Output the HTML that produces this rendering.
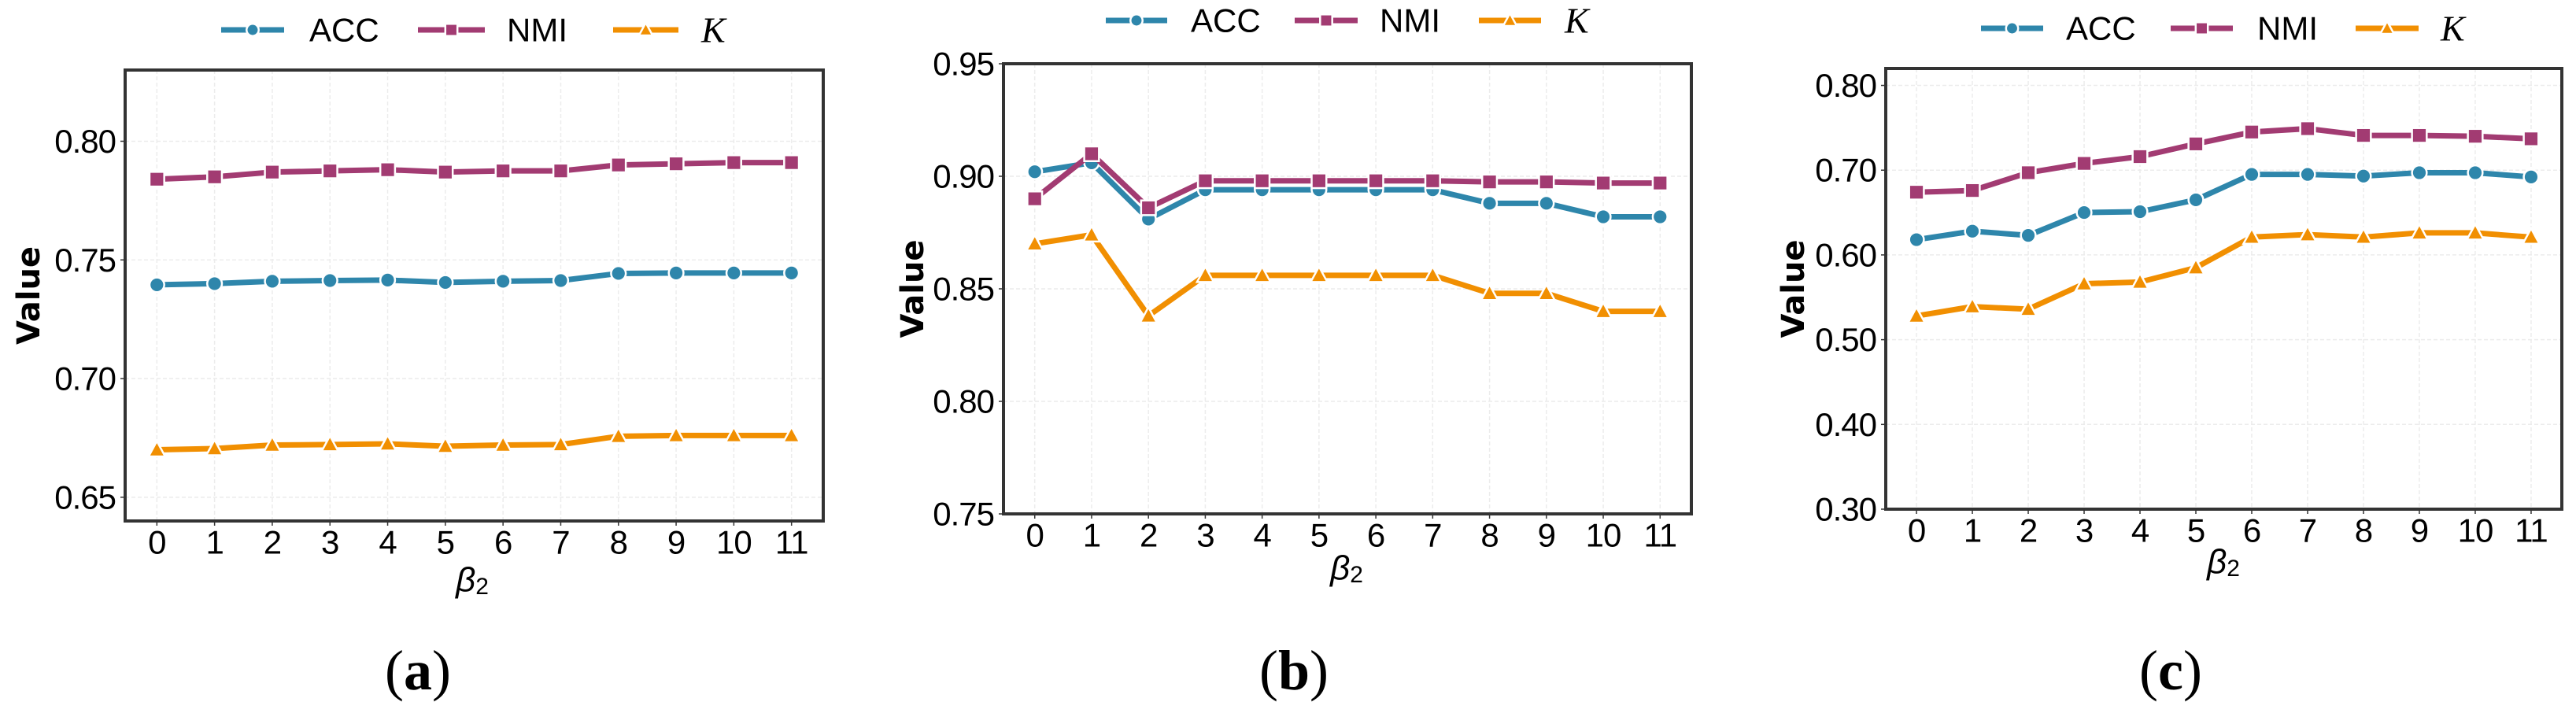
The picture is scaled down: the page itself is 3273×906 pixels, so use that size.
<!DOCTYPE html>
<html><head><meta charset="utf-8"><style>
html,body{margin:0;padding:0;background:#fff;}
svg{display:block;font-family:"Liberation Sans","DejaVu Sans",sans-serif;}
</style></head><body>
<svg id="fig" width="3273" height="906" viewBox="0 0 3273 906" xmlns="http://www.w3.org/2000/svg"></svg>
<script>
const xCats=[0,1,2,3,4,5,6,7,8,9,10,11];
const seriesNames=["ACC","NMI","K"];
const accA=[0.7395,0.740,0.741,0.7413,0.7415,0.7405,0.741,0.7413,0.7443,0.7445,0.7445,0.7445];
const nmiA=[0.784,0.785,0.787,0.7875,0.788,0.787,0.7875,0.7875,0.790,0.7905,0.791,0.791];
const kA=[0.670,0.6705,0.672,0.6722,0.6725,0.6715,0.672,0.6722,0.6757,0.676,0.676,0.676];
const accB=[0.902,0.906,0.881,0.894,0.894,0.894,0.894,0.894,0.888,0.888,0.882,0.882];
const nmiB=[0.890,0.910,0.886,0.898,0.898,0.898,0.898,0.898,0.8975,0.8975,0.897,0.897];
const kB=[0.870,0.874,0.838,0.856,0.856,0.856,0.856,0.856,0.848,0.848,0.840,0.840];
const accC=[0.618,0.628,0.623,0.650,0.651,0.665,0.695,0.695,0.693,0.697,0.697,0.692];
const nmiC=[0.674,0.676,0.697,0.708,0.716,0.731,0.745,0.749,0.741,0.741,0.740,0.737];
const kC=[0.528,0.539,0.536,0.566,0.568,0.585,0.621,0.624,0.621,0.626,0.626,0.621];
const yTicksA=[0.65,0.70,0.75,0.80];
const yTicksB=[0.75,0.80,0.85,0.90,0.95];
const yTicksC=[0.30,0.40,0.50,0.60,0.70,0.80];

const NS="http://www.w3.org/2000/svg";
const svg=document.getElementById('fig');
const colors={ACC:"#2e86ab",NMI:"#a23b72",K:"#f18f01"};
function mk(tag,attrs,parent){const e=document.createElementNS(NS,tag);for(const k in attrs)e.setAttribute(k,attrs[k]);(parent||svg).appendChild(e);return e;}
function marker(g,kind,x,y,s){
  let m;
  if(kind==="ACC"){m=mk('circle',{cx:x,cy:y,r:s*0.55,fill:colors.ACC,stroke:'#fff','stroke-width':2.5},g);}
  else if(kind==="NMI"){m=mk('rect',{x:x-s*0.55,y:y-s*0.55,width:s*1.1,height:s*1.1,fill:colors.NMI,stroke:'#fff','stroke-width':2.5},g);}
  else {m=mk('polygon',{points:`${x},${y-s*0.65} ${x+s*0.62},${y+s*0.5} ${x-s*0.62},${y+s*0.5}`,fill:colors.K,stroke:'#fff','stroke-width':2.5},g);}
  return m;
}
function panel(cfg){
  const g=mk('g',{});
  
  
  const {L,R,T,B,ymin,ymax}=cfg;
  const xmin=-0.55,xmax=11.55;
  const X=v=>L+(v-xmin)/(xmax-xmin)*(R-L);
  const Y=v=>B-(v-ymin)/(ymax-ymin)*(B-T);
  xCats.forEach(c=>{const l=mk('line',{x1:X(c),x2:X(c),y1:T,y2:B,stroke:'#ececec','stroke-width':1.5,'stroke-dasharray':'5,3'},g);
    });
  cfg.yticks.forEach(t=>{const l=mk('line',{x1:L,x2:R,y1:Y(t),y2:Y(t),stroke:'#ececec','stroke-width':1.5,'stroke-dasharray':'5,3'},g);
    });
  const data={ACC:cfg.acc,NMI:cfg.nmi,K:cfg.k};
  ["ACC","NMI","K"].forEach(s=>{
    const sg=mk('g',{},g);
    
    
    const pts=data[s].map((v,i)=>X(xCats[i])+','+Y(v)).join(' ');
    const pl=mk('polyline',{points:pts,fill:'none',stroke:colors[s],'stroke-width':7,'stroke-linejoin':'round'},sg);
    
    
    data[s].forEach((v,i)=>{const m=marker(sg,s,X(xCats[i]),Y(v),17);
      
      });
  });
  const fr=mk('rect',{x:L,y:T,width:R-L,height:B-T,fill:'none',stroke:'#333','stroke-width':4},g);
  
  xCats.forEach(c=>{
    mk('line',{x1:X(c),x2:X(c),y1:B,y2:B+6,stroke:'#333','stroke-width':1.5},g);
    const t=mk('text',{x:X(c),y:B+27,'text-anchor':'middle','dominant-baseline':'central','font-size':42,fill:'#000','letter-spacing':'-1'},g);
    t.textContent=c;
    
  });
  cfg.yticks.forEach(v=>{
    mk('line',{x1:L-6,x2:L,y1:Y(v),y2:Y(v),stroke:'#333','stroke-width':1.5},g);
    const t=mk('text',{x:L-12,y:Y(v),'text-anchor':'end','dominant-baseline':'central','font-size':42,fill:'#000','letter-spacing':'-1'},g);
    t.textContent=v.toFixed(2);
    
  });
  const yl=mk('text',{x:0,y:0,transform:`translate(${cfg.ylx},${(T+B)/2}) rotate(-90)`,'text-anchor':'middle','dominant-baseline':'central','font-size':40,'font-weight':'bold','font-family':'"DejaVu Sans",sans-serif'},g);
  yl.textContent='Value';
  const xl=mk('text',{x:cfg.xlx,y:cfg.xly,'text-anchor':'middle','dominant-baseline':'central','font-size':44,'font-style':'italic'},g);
  xl.textContent='β';
  const sub=mk('tspan',{'font-size':30,'font-style':'normal',dy:8},xl);sub.textContent='2';
  
  const cap=mk('text',{x:cfg.capx,y:852,'text-anchor':'middle','dominant-baseline':'central','font-size':72,'font-family':'"Liberation Serif",serif'},g);
  mk('tspan',{},cap).textContent='(';
  mk('tspan',{'font-weight':'bold'},cap).textContent=cfg.id;
  mk('tspan',{},cap).textContent=')';
  
  const lg=mk('g',{},g);
  
  cfg.leg.forEach((p,i)=>{
    const s=seriesNames[i];
    const eg=mk('g',{},lg);
    
    
    mk('line',{x1:p[0],x2:p[1],y1:cfg.legy,y2:cfg.legy,stroke:colors[s],'stroke-width':7},eg);
    marker(eg,s,(p[0]+p[1])/2,cfg.legy,14);
    const t=mk('text',{x:p[2],y:cfg.legy,'dominant-baseline':'central','font-size':42},eg);
    if(s==="K"){t.setAttribute('font-family','"Liberation Serif",serif');t.setAttribute('font-style','italic');t.setAttribute('font-size',46);t.textContent='K';}
    else t.textContent=s;
  });
}
panel({id:'a',L:159,R:1046,T:89,B:662,ymin:0.64,ymax:0.83,yticks:yTicksA,acc:accA,nmi:nmiA,k:kA,
  ylx:37,xlx:600,xly:737,capx:531,legy:38,leg:[[281,361,393],[531,616,644],[779,862,891]]});
panel({id:'b',L:1275,R:2149,T:81,B:653,ymin:0.75,ymax:0.95,yticks:yTicksB,acc:accB,nmi:nmiB,k:kB,
  ylx:1160,xlx:1711,xly:722,capx:1644,legy:26,leg:[[1405,1483,1513],[1645,1725,1753],[1879,1958,1988]]});
panel({id:'c',L:2396,R:3255,T:87,B:647,ymin:0.30,ymax:0.82,yticks:yTicksC,acc:accC,nmi:nmiC,k:kC,
  ylx:2279,xlx:2825,xly:714,capx:2758,legy:36,leg:[[2517,2596,2625],[2758,2837,2868],[2993,3073,3101]]});
</script>
</body></html>
